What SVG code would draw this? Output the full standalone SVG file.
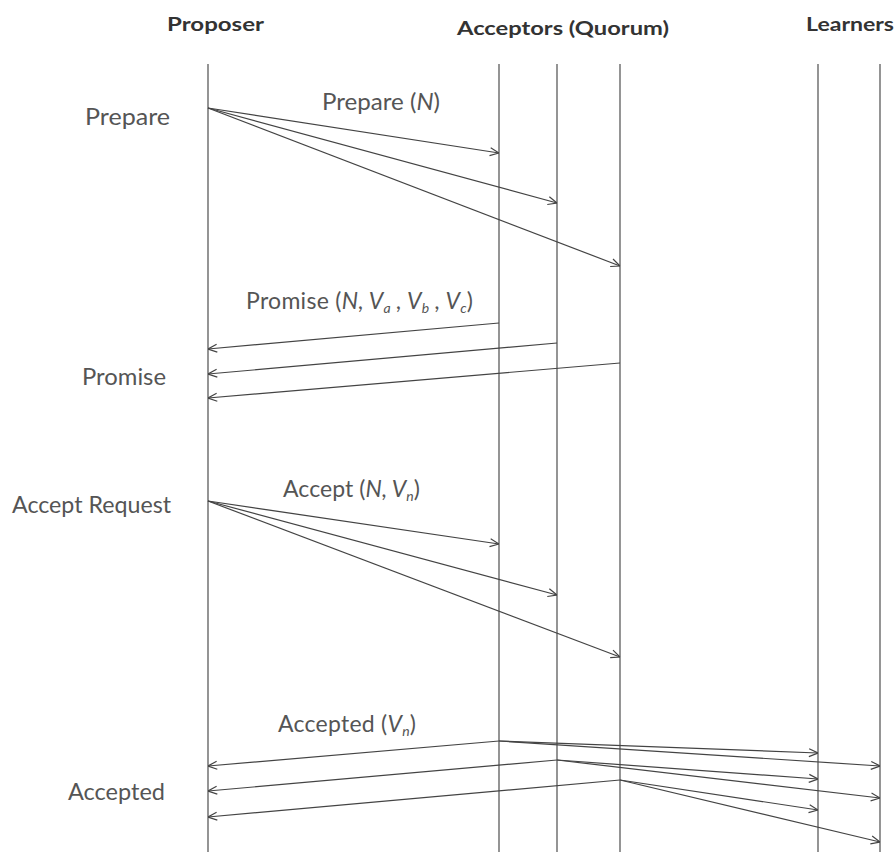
<svg xmlns="http://www.w3.org/2000/svg" width="896" height="852" viewBox="0 0 896 852">
  <style>
    .head { font-family: Lato, "Open Sans", "Liberation Sans", sans-serif; font-weight: bold; font-size: 19px; fill: #333; }
    .phase { font-family: Lato, "Open Sans", "Liberation Sans", sans-serif; font-size: 23px; fill: #555; text-anchor: end; }
    .msg { font-family: Lato, "Open Sans", "Liberation Sans", sans-serif; font-size: 23px; fill: #555; }
    .it { font-style: italic; }
    .sub { font-style: italic; font-size: 14px; }
    .life { stroke: #7a7a7a; stroke-width: 1.6; fill: none; }
    .arrow { stroke: #444; stroke-width: 1.2; fill: none; marker-end: url(#head); }
  </style>
  <defs>
    <marker id="head" viewBox="0 0 10 10" refX="10" refY="5" markerWidth="10" markerHeight="10" markerUnits="userSpaceOnUse" orient="auto">
      <path d="M1,1 L10,5 L1,9" fill="none" stroke="#444" stroke-width="1.2"/>
    </marker>
  </defs>
  <rect width="896" height="852" fill="#fff"/>

  <!-- Proposer lifeline -->
  <g id="proposer">
    <text class="head" x="167" y="31" textLength="97" lengthAdjust="spacingAndGlyphs">Proposer</text>
    <line class="life" x1="208" y1="64" x2="208" y2="852"/>
  </g>

  <!-- Acceptor lifelines -->
  <g id="acceptors">
    <text class="head" x="457" y="35" textLength="212" lengthAdjust="spacingAndGlyphs">Acceptors (Quorum)</text>
    <line class="life" x1="499" y1="64" x2="499" y2="852"/>
    <line class="life" x1="557" y1="64" x2="557" y2="852"/>
    <line class="life" x1="620" y1="64" x2="620" y2="852"/>
  </g>

  <!-- Learner lifelines -->
  <g id="learners">
    <text class="head" x="806" y="31" textLength="88" lengthAdjust="spacingAndGlyphs">Learners</text>
    <line class="life" x1="818" y1="64" x2="818" y2="852"/>
    <line class="life" x1="880" y1="64" x2="880" y2="852"/>
  </g>

  <!-- Phase labels -->
  <g id="phases">
    <text class="phase" x="170" y="125" textLength="85" lengthAdjust="spacingAndGlyphs">Prepare</text>
    <text class="phase" x="166" y="385" textLength="84" lengthAdjust="spacingAndGlyphs">Promise</text>
    <text class="phase" x="171" y="513" textLength="159" lengthAdjust="spacingAndGlyphs">Accept Request</text>
    <text class="phase" x="165" y="800" textLength="97" lengthAdjust="spacingAndGlyphs">Accepted</text>
  </g>

  <!-- Message labels -->
  <g id="messages">
    <text class="msg" x="322" y="110" textLength="118" lengthAdjust="spacingAndGlyphs">Prepare (<tspan class="it">N</tspan>)</text>
    <text class="msg" x="246" y="309" textLength="227" lengthAdjust="spacing">Promise (<tspan class="it">N, V</tspan><tspan class="sub" dy="4">a</tspan><tspan dy="-4" class="it"> , V</tspan><tspan class="sub" dy="4">b</tspan><tspan dy="-4" class="it"> , V</tspan><tspan class="sub" dy="4">c</tspan><tspan dy="-4">)</tspan></text>
    <text class="msg" x="283" y="497" textLength="137" lengthAdjust="spacing">Accept (<tspan class="it">N, V</tspan><tspan class="sub" dy="4">n</tspan><tspan dy="-4">)</tspan></text>
    <text class="msg" x="278" y="732" textLength="138" lengthAdjust="spacing">Accepted (<tspan class="it">V</tspan><tspan class="sub" dy="4">n</tspan><tspan dy="-4">)</tspan></text>
  </g>

  <!-- Connectors -->
  <g id="connectors">
    <!-- Prepare -->
    <line class="arrow" x1="208" y1="108" x2="499" y2="153"/>
    <line class="arrow" x1="208" y1="108" x2="557" y2="203"/>
    <line class="arrow" x1="208" y1="108" x2="620" y2="266"/>
    <!-- Promise -->
    <line class="arrow" x1="499" y1="323" x2="208" y2="349"/>
    <line class="arrow" x1="557" y1="343" x2="208" y2="374"/>
    <line class="arrow" x1="620" y1="363" x2="208" y2="398"/>
    <!-- Accept -->
    <line class="arrow" x1="208" y1="501" x2="499" y2="544"/>
    <line class="arrow" x1="208" y1="501" x2="557" y2="595"/>
    <line class="arrow" x1="208" y1="501" x2="620" y2="657"/>
    <!-- Accepted -->
    <line class="arrow" x1="499" y1="741" x2="208" y2="766"/>
    <line class="arrow" x1="499" y1="741" x2="818" y2="753"/>
    <line class="arrow" x1="499" y1="741" x2="880" y2="766"/>
    <line class="arrow" x1="557" y1="760" x2="208" y2="791"/>
    <line class="arrow" x1="557" y1="760" x2="818" y2="779"/>
    <line class="arrow" x1="557" y1="760" x2="880" y2="798"/>
    <line class="arrow" x1="620" y1="780" x2="208" y2="817"/>
    <line class="arrow" x1="620" y1="780" x2="818" y2="810"/>
    <line class="arrow" x1="620" y1="780" x2="880" y2="842"/>
  </g>
</svg>
